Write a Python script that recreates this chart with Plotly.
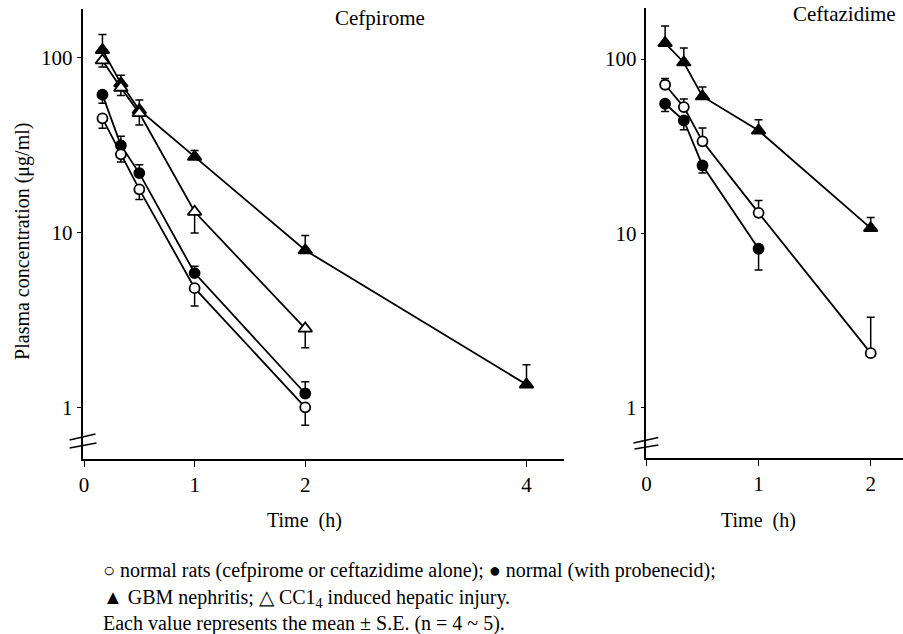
import plotly.graph_objects as go

# ---------------- data ----------------
t5 = [1/6, 1/3, 0.5, 1, 2]
t6 = [1/6, 1/3, 0.5, 1, 2, 4]
t4 = [1/6, 1/3, 0.5, 1]

# Cefpirome
cef_normal = [44.8, 27.9, 17.6, 4.8, 1.0]
cef_normal_em = [5.5, 2.7, 2.2, 1.0, 0.21]
cef_prob = [61.2, 31.4, 21.8, 5.85, 1.2]
cef_prob_ep = [0, 4.0, 2.5, 0.55, 0.2]
cef_prob_em = [6.5, 0, 0, 0, 0]
cef_gbm = [110, 71, 50, 27, 7.9, 1.35]
cef_gbm_ep = [25, 8, 7, 2.3, 1.7, 0.4]
cef_ccl4 = [96, 67, 48, 13.1, 2.82]
cef_ccl4_em = [8, 6.5, 7, 3.2, 0.63]

# Ceftazidime
caz_normal = [71.2, 53, 33.7, 13.1, 2.05]
caz_normal_ep = [6, 6, 6.5, 2.3, 1.25]
caz_prob = [55.4, 44.4, 24.5, 8.15]
caz_prob_em = [5.4, 5.1, 2.3, 2.0]
caz_gbm = [123.6, 95.6, 61, 38.9, 10.7]
caz_gbm_ep = [31, 20, 8, 5.9, 1.6]

x_ticks_left = [0, 1, 2, 4]
x_ticks_right = [0, 1, 2]
y_ticks = [1, 10, 100]

FONT = "Liberation Serif"
W, H = 903, 634

fig = go.Figure()


def add(x, y, symbol, fill, xa, ya, ep=None, em=None):
    err = None
    if ep is not None or em is not None:
        ep_ = ep if ep is not None else [0] * len(y)
        em_ = em if em is not None else [0] * len(y)
        err = dict(type="data", symmetric=False, array=ep_, arrayminus=em_,
                   color="black", thickness=1.5, width=4)
    fig.add_trace(go.Scatter(
        x=x, y=y, mode="lines+markers", xaxis=xa, yaxis=ya,
        line=dict(color="black", width=1.8),
        marker=dict(symbol=symbol, size=12 if "triangle" in symbol else 10,
                    color=fill, line=dict(color="black", width=1.8)),
        error_y=err, showlegend=False, hoverinfo="skip"))


# left panel
add(t6, cef_gbm, "triangle-up", "black", "x", "y", ep=cef_gbm_ep)
add(t5, cef_ccl4, "triangle-up", "white", "x", "y", em=cef_ccl4_em)
add(t5, cef_prob, "circle", "black", "x", "y", ep=cef_prob_ep, em=cef_prob_em)
add(t5, cef_normal, "circle", "white", "x", "y", em=cef_normal_em)
# right panel
add(t5, caz_gbm, "triangle-up", "black", "x2", "y2", ep=caz_gbm_ep)
add(t4, caz_prob, "circle", "black", "x2", "y2", em=caz_prob_em)
add(t5, caz_normal, "circle", "white", "x2", "y2", ep=caz_normal_ep)


def px(x):
    return x / W


def py(y):
    return 1 - y / H


axis_common = dict(showgrid=False, zeroline=False, showline=True, linecolor="black",
                   linewidth=1.6, ticks="outside", ticklen=6, tickwidth=1.3,
                   tickcolor="black", tickfont=dict(family=FONT, size=21, color="black"))

fig.update_layout(
    width=W, height=H, margin=dict(l=0, r=0, t=0, b=0),
    paper_bgcolor="white", plot_bgcolor="white",
    xaxis=dict(domain=[px(78), px(562)], range=[-0.013, 4.338], tickvals=x_ticks_left,
               anchor="y", **axis_common),
    yaxis=dict(domain=[py(459), py(9)], type="log", range=[-0.295, 2.276],
               tickvals=y_ticks, ticktext=[str(v) for v in y_ticks], anchor="x",
               **{**axis_common, "ticklen": 4}),
    xaxis2=dict(domain=[px(645), 1.0], range=[0.0, 2.288], tickvals=x_ticks_right,
                anchor="y2", **axis_common),
    yaxis2=dict(domain=[py(458), py(8)], type="log", range=[-0.29, 2.293],
                tickvals=y_ticks, ticktext=[str(v) for v in y_ticks], anchor="x2",
                **{**axis_common, "ticklen": 4}),
)

# axis break marks (decorative)
shapes = []
for (x0, y0, x1, y1) in [(65, 440, 91, 434), (65, 448, 92, 443),
                         (632, 443, 657, 437.5), (633, 449, 657, 445)]:
    shapes.append(dict(type="line", xref="paper", yref="paper",
                       x0=px(x0), y0=py(y0), x1=px(x1), y1=py(y1),
                       line=dict(color="black", width=1.5)))
fig.update_layout(shapes=shapes)

ann = []


def text(x, y, s, size=21, angle=0, xanchor="center"):
    ann.append(dict(x=px(x), y=py(y), xref="paper", yref="paper", text=s,
                    showarrow=False, textangle=angle, xanchor=xanchor, yanchor="middle",
                    font=dict(family=FONT, size=size, color="black")))


text(377, 18, "Cefpirome")
text(844, 14, "Ceftazidime")
text(17, 241, "Plasma concentration (\u03bcg/ml)", size=20, angle=-90)
text(301, 520, "Time\u00a0 (h)", size=20)
text(758, 520, "Time\u00a0 (h)", size=20)
text(97, 570, "\u25cb normal rats (cefpirome or ceftazidime alone); \u25cf normal (with probenecid);",
     size=20, xanchor="left")
text(97, 598, "\u25b2 GBM nephritis; \u25b3 CC1<sub>4</sub> induced hepatic injury.", size=20,
     xanchor="left")
text(97, 623, "Each value represents the mean \u00b1 S.E. (n = 4 ~ 5).", size=20, xanchor="left")
fig.update_layout(annotations=ann)

fig.write_html("out.html", config={"displayModeBar": False},
               post_script="document.body.style.margin='0';")
